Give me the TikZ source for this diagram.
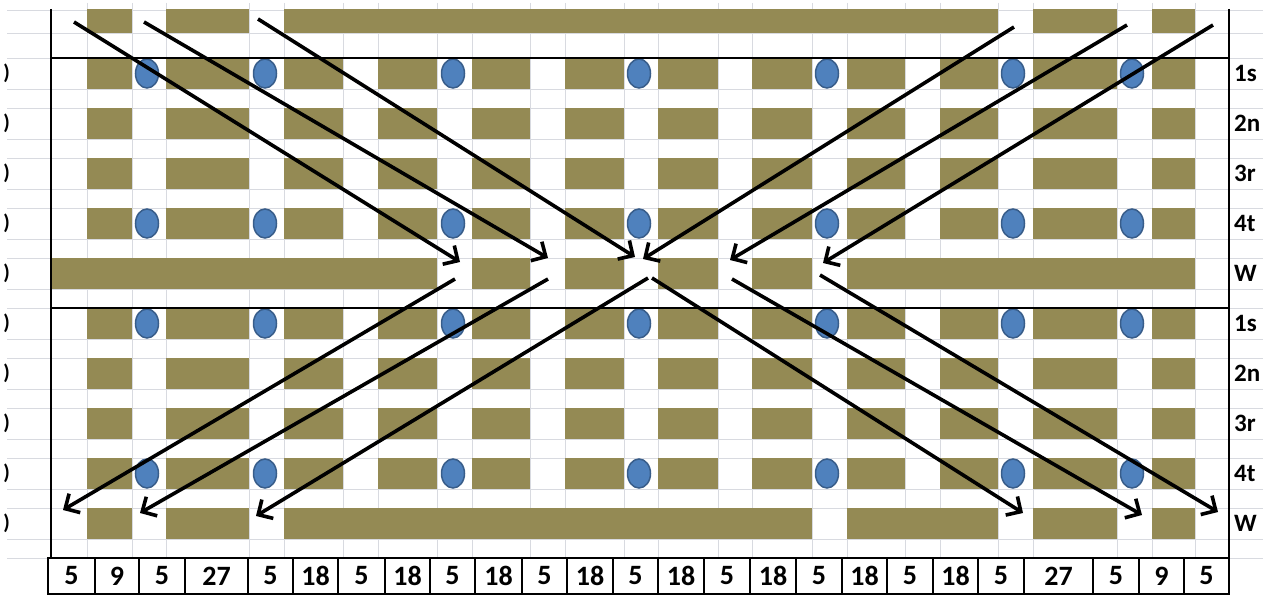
\documentclass[tikz,border=0pt]{standalone}
\usepackage{fontspec}
\setmainfont{Carlito}
\usetikzlibrary{arrows.meta,positioning}
\definecolor{BarOlive}{HTML}{948A54}
\definecolor{DotBlue}{HTML}{4F81BD}
\definecolor{DotEdge}{HTML}{385D8A}
\definecolor{GridGray}{HTML}{D8DAE0}
\tikzset{
  bar/.style={fill=BarOlive},
  dot/.style={fill=DotBlue,draw=DotEdge,line width=1.5pt},
  gridln/.style={draw=GridGray,line width=0.8pt},
  frameln/.style={draw=black,line width=2.7pt},
  arr/.style={-{Straight Barb[length=11pt,width=22pt]},line width=3.6pt},
  numcell/.style={rectangle,draw,line width=2.7pt,fill=white,
                  minimum height=36pt,inner sep=0pt,
                  font=\fontsize{28}{30}\selectfont\bfseries},
  rowlab/.style={anchor=west,inner sep=0pt,font=\fontsize{25}{28}\selectfont\bfseries},
  cutlab/.style={anchor=east,inner sep=0pt,font=\fontsize{21}{24}\selectfont\bfseries}
}
\def\colbars{87/132,166/249,284/343,378/437,472/530,565/624,658/718,752/812,847/905,940/998,1033/1117,1152/1195}

\begin{document}
\begin{tikzpicture}[x=1pt,y=-1pt]
  \fill[white] (0,0) rectangle (1263,596);
  \useasboundingbox (0,0) rectangle (1263,596);
  \clip (0,0) rectangle (1263,596);

  % sheet grid
  \foreach \y in {10,33,58,89,108,139,158,189,208,239,258,289,308,339,358,389,408,439,458,489,508,539,558}
    \draw[gridln] (7,\y) -- (1263,\y);
  \foreach \x in {87,132,166,249,284,343,378,437,472,530,565,624,658,718,752,812,847,905,940,998,1033,1117,1152,1195}
    \draw[gridln] (\x,3) -- (\x,558);

  % olive bars
  \foreach \r in {1,2,3,4,6,7,8,9}
    \foreach \xa/\xb in \colbars
      \fill[bar] (\xa,8+50*\r) rectangle (\xb,39+50*\r);
  \foreach \xa/\xb in {87/132,166/249,284/998,1033/1117,1152/1195}
    \fill[bar] (\xa,9) rectangle (\xb,33);
  \foreach \xa/\xb in {52/437,472/530,565/624,658/718,752/812,847/1195}
    \fill[bar] (\xa,258) rectangle (\xb,289);
  \foreach \xa/\xb in {87/132,166/249,284/812,847/998,1033/1117,1152/1195}
    \fill[bar] (\xa,508) rectangle (\xb,539);

  % blue dots
  \foreach \r in {1,4,6,9}
    \foreach \x in {147,265,453,639,827,1013,1132}
      \draw[dot] (\x,23.5+50*\r) ellipse (11.5 and 14.5);

  % frame
  \draw[frameln] (51,9) -- (51,558);
  \draw[frameln] (1229,9) -- (1229,558);
  \draw[frameln] (51,58) -- (1229,58);
  \draw[frameln] (51,308) -- (1229,308);

  % row labels (cut at the edges)
  \foreach \r/\t in {1/1s,2/2n,3/3r,4/4t,5/W,6/1s,7/2n,8/3r,9/4t,10/W}{
    \node[rowlab] (lab\r) at (1234,23.5+50*\r) {\t};
    \node[cutlab] (cut\r) at (10,23.5+50*\r) {)};
  }

  % arrows
  \foreach \i/\sx/\sy/\ex/\ey in {1/74/22/460/262,2/144/22/548/258,3/258/19/635/257,
      4/1014/27/643/259,5/1127/25/730/260,6/1213/25/823/263,
      7/455/279/63/510,8/548/279/140/513,9/648/278/256/516,
      10/652/278/1023/513,11/732/279/1142/515,12/820/275/1218/512}{
    \coordinate (s\i) at (\sx,\sy);
    \coordinate (e\i) at (\ex,\ey);
    \draw[arr] (s\i) -- (e\i);
  }

  % widths table
  \foreach \xa/\xb/\n [count=\i] in {48/95/5,95/139/9,139/185/5,185/248/27,248/293/5,
      293/338/18,338/385/5,385/430/18,430/475/5,475/522/18,522/567/5,567/613/18,
      613/658/5,658/704/18,704/750/5,750/796/18,796/842/5,842/887/18,887/933/5,
      933/978/18,978/1024/5,1024/1093/27,1093/1139/5,1139/1184/9,1184/1229/5}
    \node[numcell,minimum width=\xb-\xa] (n\i) at ({(\xa+\xb)/2},576) {\n};
\end{tikzpicture}
\end{document}
